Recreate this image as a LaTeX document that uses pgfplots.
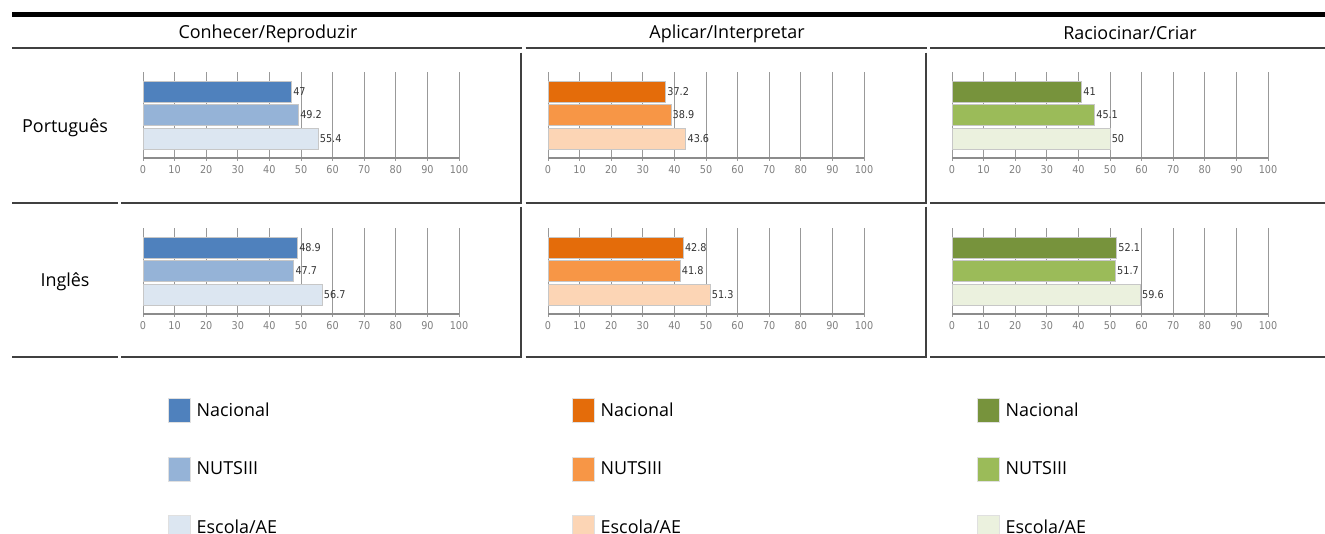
\documentclass[border=0pt]{standalone}
\usepackage{fontspec}
\setmainfont{Open Sans}
\newfontfamily\tickfont{DejaVu Sans Condensed}
\usepackage{pgfplots}
\pgfplotsset{compat=1.18}
\definecolor{bA}{HTML}{4F81BD}\definecolor{bB}{HTML}{95B3D7}\definecolor{bC}{HTML}{DCE6F1}
\definecolor{oA}{HTML}{E46C0A}\definecolor{oB}{HTML}{F79646}\definecolor{oC}{HTML}{FCD5B5}
\definecolor{gA}{HTML}{77933C}\definecolor{gB}{HTML}{9BBB59}\definecolor{gC}{HTML}{EBF1DE}
\definecolor{rule}{HTML}{404040}
\pgfplotsset{
  panel/.style={
    anchor=south west, scale only axis, width=316bp, height=86bp,
    xmin=0, xmax=100, ymin=0.17, ymax=3.83,
    axis x line*=bottom, axis y line=none,
    xtick={0,10,...,100}, ytick=\empty,
    xmajorgrids, grid style={black!40, line width=0.8bp},
    x axis line style={black!45, line width=1.3bp, -},
    xtick style={black!40, line width=0.8bp},
    tick align=outside, major tick length=3bp,
    /pgf/number format/assume math mode=true,
    xticklabel style={font=\tickfont\fontsize{10.8}{12}\selectfont, text=black!50, inner sep=2bp, yshift=-2.5bp},
    point meta=x,
    nodes near coords,
    nodes near coords style={font=\tickfont\fontsize{10.8}{12}\selectfont, text=black!80, anchor=west, inner sep=1.5bp},
    clip=false,
    legend style={draw=none, fill=none, inner sep=0pt, row sep=34bp, column sep=6bp,
      font=\fontsize{18}{21}\selectfont, cells={anchor=west},
      nodes={inner sep=0pt}},
  },
  bar/.style={xbar, bar width=21bp, bar shift=0pt, fill=#1, draw=black!22, line width=0.6bp,
    legend image code/.code={\draw[fill=#1, draw=black!12, line width=0.5bp] (0bp,-12bp) rectangle (22bp,12bp);}},
}
\begin{document}
\begin{tikzpicture}[x=1bp,y=1bp]
\path[use as bounding box] (0,0) rectangle (1325,534);
% table rules
\draw[line width=5bp, black] (12,519) -- (1325,519);
\begin{scope}[line width=2.6bp, rule]
\draw (12,486) -- (522,486); \draw (525.5,486) -- (927,486); \draw (930,486) -- (1325,486);
\foreach \yy in {331,177}{
  \draw (12,\yy) -- (118,\yy); \draw (121,\yy) -- (522.3,\yy);
  \draw (525.5,\yy) -- (927.3,\yy); \draw (930,\yy) -- (1325,\yy);}
\foreach \xx in {521,926}{
  \draw (\xx,481.3) -- (\xx,331); \draw (\xx,327.3) -- (\xx,177);}
\end{scope}
% headers and row labels
\begin{scope}[font=\fontsize{18}{21}\selectfont]
\node at (268,500.5) {Conhecer/Reproduzir};
\node at (727,500.5) {Aplicar/Interpretar};
\node at (1130,500.5) {Raciocinar/Criar};
\node at (65,406) {Português};
\node at (65,252) {Inglês};
\end{scope}
% Português row
\begin{axis}[panel, at={(143bp,376bp)}]
\addplot[bar=bA] coordinates {(47,3)};
\addplot[bar=bB] coordinates {(49.2,2)};
\addplot[bar=bC] coordinates {(55.4,1)};
\end{axis}
\begin{axis}[panel, at={(548bp,376bp)}]
\addplot[bar=oA] coordinates {(37.2,3)};
\addplot[bar=oB] coordinates {(38.9,2)};
\addplot[bar=oC] coordinates {(43.6,1)};
\end{axis}
\begin{axis}[panel, at={(952bp,376bp)}]
\addplot[bar=gA] coordinates {(41,3)};
\addplot[bar=gB] coordinates {(45.1,2)};
\addplot[bar=gC] coordinates {(50,1)};
\end{axis}
% Inglês row
\begin{axis}[panel, at={(143bp,220bp)}, legend style={at={(0.0791,-0.977)}, anchor=north west}]
\addplot[bar=bA] coordinates {(48.9,3)};
\addplot[bar=bB] coordinates {(47.7,2)};
\addplot[bar=bC] coordinates {(56.7,1)};
\legend{Nacional,NUTSIII,Escola/AE}
\end{axis}
\begin{axis}[panel, at={(548bp,220bp)}, legend style={at={(0.0759,-0.977)}, anchor=north west}]
\addplot[bar=oA] coordinates {(42.8,3)};
\addplot[bar=oB] coordinates {(41.8,2)};
\addplot[bar=oC] coordinates {(51.3,1)};
\legend{Nacional,NUTSIII,Escola/AE}
\end{axis}
\begin{axis}[panel, at={(952bp,220bp)}, legend style={at={(0.0791,-0.977)}, anchor=north west}]
\addplot[bar=gA] coordinates {(52.1,3)};
\addplot[bar=gB] coordinates {(51.7,2)};
\addplot[bar=gC] coordinates {(59.6,1)};
\legend{Nacional,NUTSIII,Escola/AE}
\end{axis}
\end{tikzpicture}
\end{document}
